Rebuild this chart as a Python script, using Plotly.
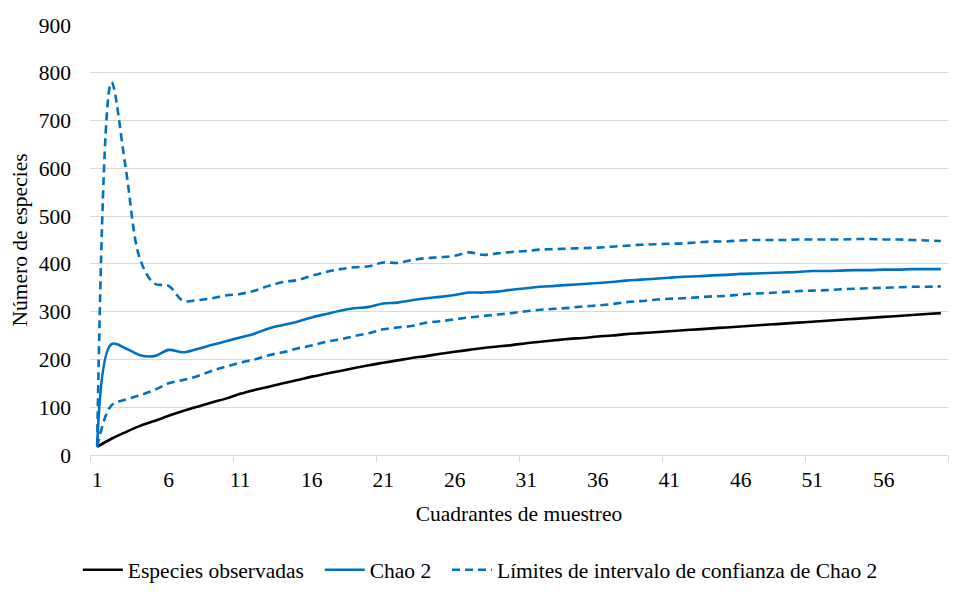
import plotly.graph_objects as go

quadrants = list(range(1, 61))

especies_observadas = [
    17, 34, 48, 61, 71, 82, 92, 101, 110, 118,
    128, 136, 143, 150, 157, 164, 170, 176, 182, 188,
    193, 198, 203, 207, 212, 216, 220, 224, 227, 230,
    234, 237, 240, 243, 245, 248, 250, 253, 255, 257,
    259, 261, 263, 265, 267, 269, 271, 273, 275, 277,
    279, 281, 283, 285, 287, 289, 291, 293, 295, 297,
]

chao2 = [
    17, 232, 223, 209, 207, 220, 215, 222, 230, 238,
    246, 254, 265, 272, 279, 288, 295, 302, 307, 310,
    317, 319, 324, 328, 331, 335, 340, 340, 342, 346,
    349, 352, 354, 356, 358, 360, 362, 365, 367, 369,
    371, 373, 374, 376, 377, 379, 380, 381, 382, 383,
    385, 385, 386, 387, 387, 388, 388, 389, 389, 389,
]

limite_superior = [
    20, 780, 600, 410, 359, 354, 323, 324, 328, 334,
    337, 344, 354, 362, 366, 375, 383, 389, 393, 395,
    403, 402, 408, 412, 414, 417, 424, 419, 422, 425,
    427, 430, 431, 432, 433, 434, 436, 438, 440, 441,
    442, 443, 445, 447, 447, 449, 450, 450, 450, 451,
    451, 451, 451, 452, 452, 451, 451, 450, 449, 448,
]

limite_inferior = [
    17, 104, 116, 125, 136, 150, 157, 165, 176, 185,
    193, 200, 209, 215, 223, 229, 237, 242, 249, 255,
    263, 267, 270, 277, 280, 284, 288, 291, 294, 297,
    301, 304, 306, 308, 311, 313, 316, 320, 322, 325,
    327, 328, 330, 332, 333, 336, 338, 339, 341, 343,
    344, 345, 347, 348, 349, 350, 351, 352, 352, 353,
]

x_tick_labels = [1, 6, 11, 16, 21, 26, 31, 36, 41, 46, 51, 56]
y_ticks = [0, 100, 200, 300, 400, 500, 600, 700, 800, 900]

BLUE = "#0070C0"
FONT = "Liberation Serif"
FS = 21.5
DASH = "8px,5px"
PAD = "\u00a0\u00a0"

fig = go.Figure()
fig.add_trace(go.Scatter(
    x=quadrants, y=especies_observadas, mode="lines", name="Especies observadas" + PAD,
    line=dict(color="black", width=2.6, shape="spline", smoothing=1),
))
fig.add_trace(go.Scatter(
    x=quadrants, y=chao2, mode="lines", name="Chao 2" + PAD,
    line=dict(color=BLUE, width=2.6, shape="spline", smoothing=1),
))
fig.add_trace(go.Scatter(
    x=quadrants, y=limite_superior, mode="lines",
    name="Límites de intervalo de confianza de Chao 2", legendgroup="lim",
    line=dict(color=BLUE, width=2.6, dash=DASH, shape="spline", smoothing=1),
))
fig.add_trace(go.Scatter(
    x=quadrants, y=limite_inferior, mode="lines",
    name="Límites de intervalo de confianza de Chao 2", legendgroup="lim", showlegend=False,
    line=dict(color=BLUE, width=2.6, dash=DASH, shape="spline", smoothing=1),
))

fig.update_layout(
    width=964, height=612,
    margin=dict(l=82, r=24, t=17, b=165, autoexpand=False),
    paper_bgcolor="white", plot_bgcolor="white",
    font=dict(family=FONT, size=FS, color="black"),
    showlegend=True,
    legend=dict(
        orientation="h", xref="container", yref="container",
        x=0.49, xanchor="center", y=0.082, yanchor="middle",
        font=dict(family=FONT, size=FS, color="black"),
        itemwidth=40, tracegroupgap=0,
    ),
    xaxis=dict(
        automargin=False,
        range=[0.5, 60.5], tickmode="array", tickvals=x_tick_labels,
        ticktext=[str(v) for v in x_tick_labels],
        ticks="", showgrid=False, zeroline=False,
        showline=True, linecolor="#d9d9d9", linewidth=1.3,
        ticklabelstandoff=5,
        tickfont=dict(family=FONT, size=FS, color="black"),
        title=dict(text="Cuadrantes de muestreo", standoff=14,
                   font=dict(family=FONT, size=FS, color="black")),
        minor=dict(tickmode="array", tickvals=[0.5, 10.5, 20.5, 30.5, 40.5, 50.5, 60.5],
                   ticks="outside", ticklen=6, tickwidth=1.3, tickcolor="#d9d9d9", showgrid=False),
    ),
    yaxis=dict(
        automargin=False,
        range=[0, 900], tickmode="array", tickvals=y_ticks,
        showgrid=True, gridcolor="#d9d9d9", gridwidth=1.3,
        zeroline=False, showline=False, ticks="",
        ticklabelstandoff=18,
        tickfont=dict(family=FONT, size=FS, color="black"),
        title=dict(text="Número de especies", standoff=6,
                   font=dict(family=FONT, size=FS, color="black")),
    ),
)

fig.write_html("out.html")
